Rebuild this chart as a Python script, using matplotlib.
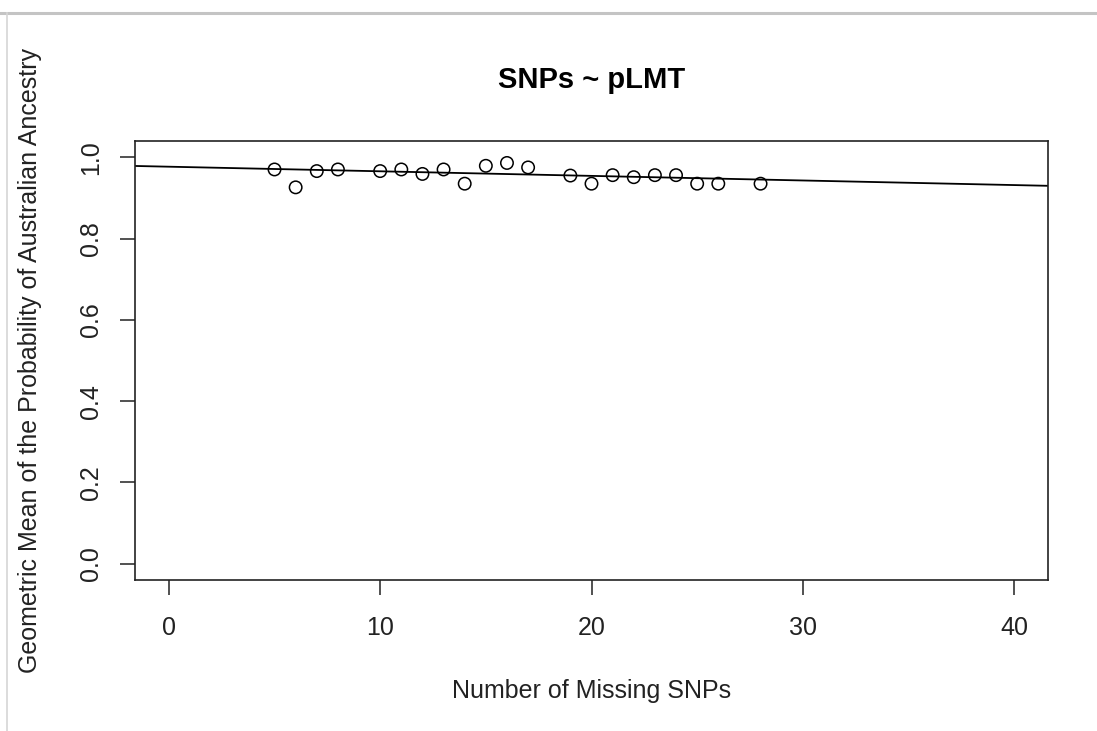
import matplotlib
matplotlib.use("Agg")
import matplotlib.pyplot as plt
from matplotlib.lines import Line2D

# missing SNP counts and geometric mean probability
missing_snps = [5, 6, 7, 8, 10, 11, 12, 13, 14, 15, 16, 17, 19, 20, 21, 22, 23, 24, 25, 26, 28]
geo_mean = [0.970, 0.926, 0.966, 0.970, 0.966, 0.970, 0.959, 0.970, 0.935, 0.979, 0.986,
            0.975, 0.955, 0.935, 0.956, 0.951, 0.956, 0.956, 0.935, 0.935, 0.935]

# fitted line (abline) coefficients
fit_intercept = 0.9768
fit_slope = -0.00113

x_ticks = [0, 10, 20, 30, 40]
y_ticks = [0.0, 0.2, 0.4, 0.6, 0.8, 1.0]

plt.rcParams['font.family'] = ['Liberation Sans', 'DejaVu Sans']

fig = plt.figure(figsize=(10.97, 7.31), dpi=100)
ax = fig.add_axes([0.1231, 0.2066, 0.8322, 0.6005])

ax.scatter(missing_snps, geo_mean, s=80, facecolors='none', edgecolors='black', linewidths=1.1, zorder=3)
ax.axline((0, fit_intercept), slope=fit_slope, color='black', linewidth=1.3)

ax.set_xlim(-1.6, 41.6)
ax.set_ylim(-0.04, 1.04)
ax.set_xticks(x_ticks)
ax.set_xticklabels([str(v) for v in x_ticks])
ax.set_yticks(y_ticks)
ax.set_yticklabels([f'{v:.1f}' for v in y_ticks], rotation=90, va='center')

ax.tick_params(direction='out', length=11, width=1.1, labelsize=18, colors='#222222')
ax.tick_params(axis='x', pad=15)
ax.tick_params(axis='y', pad=12)
for sp in ax.spines.values():
    sp.set_linewidth(1.2)
    sp.set_color('#222222')

ax.set_title('SNPs ~ pLMT', fontsize=21, fontweight='bold', pad=38)
ax.set_xlabel('Number of Missing SNPs', fontsize=18, labelpad=28, color='#222222')
ax.set_ylabel('Geometric Mean of the Probability of Australian Ancestry', fontsize=18,
              labelpad=27, color='#222222')

# screenshot frame lines
fig.add_artist(Line2D([0, 1], [1 - 13 / 731, 1 - 13 / 731], transform=fig.transFigure,
                      color='#c4c4c4', linewidth=2.2))
fig.add_artist(Line2D([7 / 1097, 7 / 1097], [0, 1 - 13 / 731], transform=fig.transFigure,
                      color='#d6d6d6', linewidth=1.2))

fig.savefig('out.png', dpi=100)
